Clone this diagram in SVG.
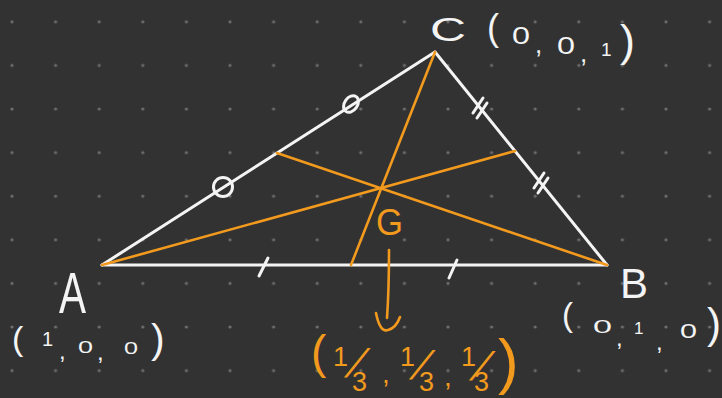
<svg xmlns="http://www.w3.org/2000/svg" width="722" height="398" viewBox="0 0 722 398">
<defs>
<pattern id="dots" patternUnits="userSpaceOnUse" x="-9.8" y="0" width="43.6" height="43.6">
<circle cx="21.8" cy="21.8" r="1.6" fill="#6e6e6e"/>
</pattern>
<style>
.w{stroke:#f4f4f4;stroke-width:3;fill:none;stroke-linecap:round;stroke-linejoin:round}
.o{stroke:#f29a1e;stroke-width:2.6;fill:none;stroke-linecap:round;stroke-linejoin:round}
.tw{fill:#f4f4f4;font-family:"Liberation Sans",Arial,sans-serif}
.to{fill:#f29a1e;font-family:"Liberation Sans",Arial,sans-serif}
</style>
</defs>
<rect width="722" height="398" fill="#323232"/>
<rect width="722" height="398" fill="url(#dots)"/>
<g id="connectors">
<path class="w" d="M102 265 L607 265"/>
<path class="w" d="M102 265 L435 52"/>
<path class="w" d="M435 52 L607 265"/>
<path class="o" d="M435 52 L351 265"/>
<path class="o" d="M102 265 L515 151"/>
<path class="o" d="M607 265 L277 153"/>
<path class="o" d="M389 250 Q389 290 387 318"/>
<path class="o" d="M376 313 Q380 333 388 330 Q396 328 400 317"/>
</g>
<g id="marks">
<path class="w" d="M259 276 L268 258"/>
<path class="w" d="M449 278 L457 260"/>
<circle class="w" cx="223" cy="187" r="9.5"/>
<ellipse class="w" cx="351" cy="104" rx="9" ry="6.5" transform="rotate(-55 351 104)"/>
<path class="w" d="M473 113 L483 98 M477 118 L487 103"/>
<path class="w" d="M534 188 L544 173 M538 193 L548 178"/>
</g>
<g id="vertex-C">
<text class="tw" x="430" y="41" font-size="34" textLength="36" lengthAdjust="spacingAndGlyphs">C</text>
<text class="tw" x="487" y="40" font-size="36">(</text>
<text class="tw" x="512" y="44" font-size="24" textLength="18" lengthAdjust="spacingAndGlyphs">0</text>
<text class="tw" x="535" y="53" font-size="26">,</text>
<text class="tw" x="557" y="54" font-size="24" textLength="18" lengthAdjust="spacingAndGlyphs">0</text>
<text class="tw" x="580" y="62" font-size="26">,</text>
<text class="tw" x="601" y="56" font-size="19">1</text>
<text class="tw" x="620" y="56" font-size="45">)</text>
</g>
<g id="vertex-A">
<text class="tw" x="59" y="313" font-size="58" textLength="27" lengthAdjust="spacingAndGlyphs">A</text>
<text class="tw" x="12" y="350" font-size="34">(</text>
<text class="tw" x="42" y="346" font-size="20">1</text>
<text class="tw" x="59" y="359" font-size="24">,</text>
<text class="tw" x="78" y="353" font-size="17" textLength="15" lengthAdjust="spacingAndGlyphs">0</text>
<text class="tw" x="97" y="360" font-size="24">,</text>
<text class="tw" x="124" y="354" font-size="17" textLength="14" lengthAdjust="spacingAndGlyphs">0</text>
<text class="tw" x="151" y="353" font-size="41">)</text>
</g>
<g id="vertex-B">
<text class="tw" x="620" y="298" font-size="42">B</text>
<text class="tw" x="562" y="326" font-size="33">(</text>
<text class="tw" x="593" y="333" font-size="19" textLength="19" lengthAdjust="spacingAndGlyphs">0</text>
<text class="tw" x="616" y="346" font-size="24">,</text>
<text class="tw" x="634" y="334" font-size="17">1</text>
<text class="tw" x="656" y="350" font-size="24">,</text>
<text class="tw" x="680" y="338" font-size="21" textLength="17" lengthAdjust="spacingAndGlyphs">0</text>
<text class="tw" x="707" y="338" font-size="42">)</text>
</g>
<g id="centroid-G">
<text class="to" x="376" y="235" font-size="37" textLength="27" lengthAdjust="spacingAndGlyphs">G</text>
<text class="to" x="311" y="368" font-size="46">(</text>
<text class="to" x="333" y="366" font-size="27">1</text>
<text class="to" font-size="40" transform="translate(344 377) skewX(-28)">/</text>
<text class="to" x="352" y="391" font-size="27">3</text>
<text class="to" x="382" y="383" font-size="28">,</text>
<text class="to" x="400" y="366" font-size="27">1</text>
<text class="to" font-size="40" transform="translate(409 379) skewX(-28)">/</text>
<text class="to" x="419" y="391" font-size="27">3</text>
<text class="to" x="444" y="386" font-size="28">,</text>
<text class="to" x="461" y="366" font-size="27">1</text>
<text class="to" font-size="40" transform="translate(469 380) skewX(-28)">/</text>
<text class="to" x="474" y="391" font-size="27">3</text>
<text class="to" x="498" y="382" font-size="62">)</text>
</g>
</svg>
